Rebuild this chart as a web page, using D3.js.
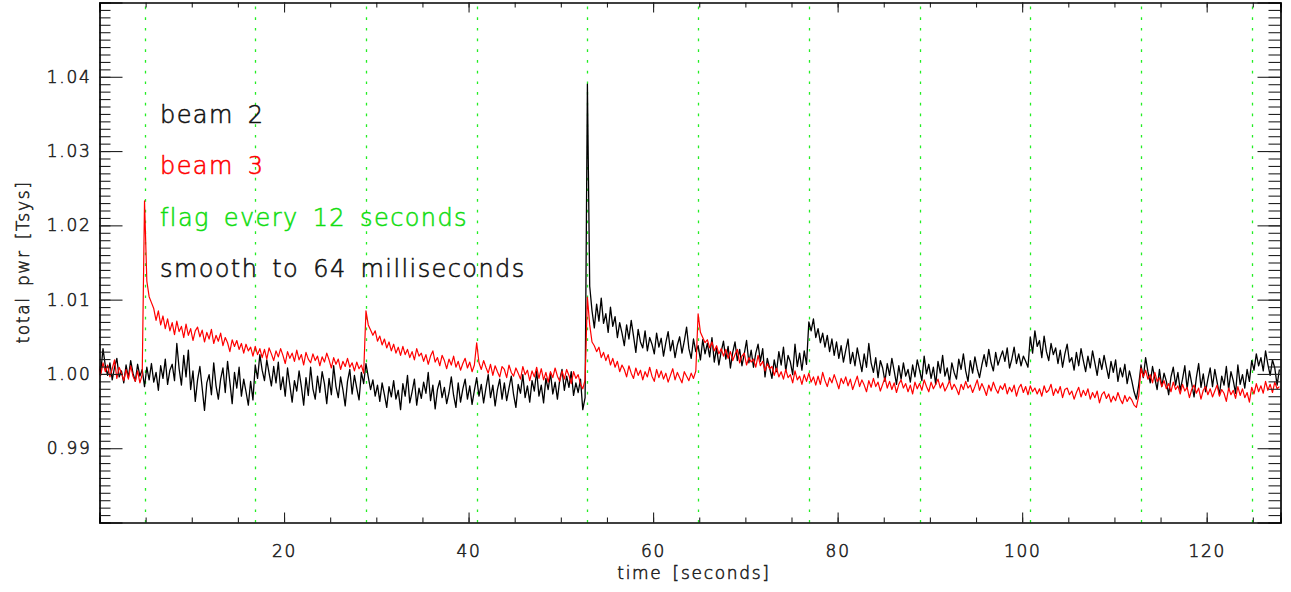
<!DOCTYPE html>
<html><head><meta charset="utf-8">
<script src="https://cdn.jsdelivr.net/npm/d3@7"></script>
<style>
html,body{margin:0;padding:0;background:#fff;}
svg text{font-family:"DejaVu Sans ExtraLight","DejaVu Sans",sans-serif;font-weight:200;stroke-width:0.55px;}
</style></head><body>
<svg id="chart" width="1291" height="592"></svg>
<script>
const sampleStart = -0.12; // seconds, time of first sample
const sampleStep = 0.25;   // seconds between samples
const flagTimes = [4.88, 16.88, 28.88, 40.88, 52.88, 64.88, 76.88, 88.88, 100.88, 112.88, 124.88];
const xTickValues = [20, 40, 60, 80, 100, 120];
const yTickValues = [0.99, 1.00, 1.01, 1.02, 1.03, 1.04];
const legendLabels = ["beam 2", "beam 3", "flag every 12 seconds", "smooth to 64 milliseconds"];
const beam2 = [
1.0008,1.0002,1.0034,1.0011, 0.9998,1.0015,0.9992,1.0009, 1.0021,0.9996,1.0004,0.9988, 1.0012,0.9995,1.0018,1.0001,
0.9990,1.0013,0.9997,1.0006, 0.9983,1.0009,0.9992,1.0014, 0.9989,1.0002,0.9978,1.0011, 0.9994,1.0020,0.9986,1.0005,
1.0013,0.9991,1.0041,1.0007, 0.9985,1.0025,0.9996,1.0032, 0.9979,1.0004,0.9963,0.9992, 1.0010,0.9981,0.9951,0.9988,
0.9999,0.9972,1.0015,0.9984, 0.9966,0.9993,1.0008,0.9975, 1.0017,0.9989,0.9960,1.0002, 0.9981,1.0009,0.9970,0.9993,
0.9976,0.9958,0.9990,0.9965, 1.0012,0.9994,1.0026,1.0005, 0.9991,1.0019,1.0001,0.9984, 1.0010,0.9988,1.0016,0.9979,
0.9996,0.9970,1.0008,0.9985, 0.9962,0.9991,0.9977,1.0004, 0.9983,0.9958,0.9995,0.9971, 1.0009,0.9980,0.9966,0.9997,
0.9975,1.0003,0.9987,0.9960, 0.9994,0.9972,1.0011,0.9983, 0.9968,0.9996,0.9979,0.9957, 0.9990,1.0006,0.9973,0.9998,
0.9981,0.9965,1.0002,0.9987, 1.0014,0.9996,0.9979,0.9992, 0.9970,0.9985,0.9963,0.9988, 0.9972,0.9955,0.9983,0.9969,
0.9991,0.9966,0.9978,0.9952, 0.9987,0.9970,0.9998,0.9961, 0.9976,0.9993,0.9958,0.9981, 0.9967,0.9989,0.9974,1.0002,
0.9964,0.9985,0.9953,0.9979, 0.9991,0.9968,0.9982,0.9960, 0.9975,0.9996,0.9971,0.9955, 0.9988,0.9962,0.9980,0.9993,
0.9966,0.9984,0.9959,0.9978, 0.9995,0.9970,0.9986,0.9961, 0.9981,0.9999,0.9968,0.9985, 0.9957,0.9979,0.9993,0.9966,
0.9988,0.9964,0.9981,0.9997, 0.9972,0.9955,0.9986,0.9974, 0.9999,0.9968,0.9984,0.9962, 0.9991,0.9977,1.0004,0.9970,
0.9985,0.9961,0.9994,0.9979, 1.0001,0.9973,0.9989,0.9966, 0.9992,1.0006,0.9978,0.9997, 0.9982,1.0003,0.9971,0.9988,
0.9975,0.9993,0.9952,0.9968, 1.0390,1.0118,1.0085,1.0062, 1.0094,1.0071,1.0102,1.0068, 1.0081,1.0056,1.0090,1.0064,
1.0077,1.0049,1.0069,1.0055, 1.0038,1.0066,1.0047,1.0072, 1.0051,1.0029,1.0060,1.0043, 1.0035,1.0058,1.0031,1.0049,
1.0040,1.0027,1.0055,1.0036, 1.0048,1.0024,1.0042,1.0057, 1.0031,1.0045,1.0022,1.0039, 1.0050,1.0028,1.0044,1.0063,
1.0034,1.0021,1.0047,1.0030, 1.0038,1.0019,1.0046,1.0027, 1.0041,1.0023,1.0049,1.0016, 1.0035,1.0012,1.0030,1.0044,
1.0020,1.0037,1.0008,1.0029, 1.0043,1.0018,1.0033,1.0011, 1.0027,1.0045,1.0015,1.0032, 1.0009,1.0028,1.0040,1.0017,
1.0034,0.9996,1.0021,1.0008, 0.9994,1.0019,1.0003,1.0030, 1.0012,1.0036,1.0004,1.0025, 1.0016,0.9999,1.0040,1.0010,
1.0028,1.0005,1.0031,1.0013, 1.0070,1.0058,1.0074,1.0049, 1.0061,1.0042,1.0055,1.0036, 1.0052,1.0030,1.0047,1.0025,
1.0043,1.0021,1.0038,1.0016, 1.0032,1.0047,1.0014,1.0029, 1.0011,1.0035,1.0019,1.0003, 1.0027,1.0009,1.0041,1.0015,
1.0002,1.0022,0.9995,1.0018, 1.0008,0.9990,1.0014,0.9998, 1.0021,1.0004,0.9986,1.0011, 0.9993,1.0015,0.9997,1.0006,
0.9989,1.0012,0.9996,1.0019, 1.0005,0.9991,1.0024,1.0000, 1.0013,0.9994,1.0009,0.9986, 1.0017,1.0001,1.0025,0.9997,
1.0008,0.9989,1.0015,1.0002, 0.9993,1.0020,1.0006,1.0027, 1.0004,0.9990,1.0018,1.0001, 1.0023,1.0007,0.9995,1.0012,
1.0026,1.0010,1.0033,1.0015, 1.0004,1.0029,1.0012,1.0022, 1.0031,1.0017,1.0035,1.0008, 1.0020,1.0036,1.0014,1.0027,
1.0011,1.0024,1.0017,1.0009, 1.0050,1.0028,1.0058,1.0037, 1.0045,1.0022,1.0051,1.0030, 1.0018,1.0041,1.0026,1.0035,
1.0014,1.0032,1.0009,1.0027, 1.0040,1.0016,1.0022,1.0005, 1.0029,1.0011,1.0034,1.0018, 1.0003,1.0024,1.0008,1.0031,
1.0015,0.9998,1.0021,1.0006, 1.0025,1.0009,0.9994,1.0017, 1.0002,1.0019,0.9990,1.0008, 0.9996,1.0013,0.9987,1.0004,
0.9991,0.9976,0.9966,0.9985, 1.0012,0.9995,1.0022,1.0003, 0.9988,1.0010,0.9994,0.9979, 1.0006,0.9983,1.0001,0.9990,
0.9972,0.9996,1.0009,0.9985, 1.0002,0.9978,0.9993,1.0011, 0.9980,1.0004,0.9987,0.9969, 0.9995,1.0014,0.9982,1.0000,
0.9976,0.9993,1.0008,0.9983, 1.0006,0.9989,0.9972,0.9997, 0.9985,1.0010,0.9979,1.0003, 0.9991,0.9974,1.0012,0.9986,
0.9999,0.9981,1.0006,0.9990, 1.0018,1.0005,1.0027,1.0011, 1.0022,1.0004,1.0031,1.0013, 0.9998,1.0019,1.0008,0.9985,
1.0006];
const beam3 = [
1.0010,0.9998,1.0015,1.0003, 1.0012,0.9996,1.0007,1.0019, 0.9994,1.0009,1.0001,0.9991, 1.0006,0.9993,1.0011,0.9997,
0.9990,1.0004,0.9988,0.9999, 1.0233,1.0125,1.0104,1.0096, 1.0088,1.0072,1.0085,1.0066, 1.0078,1.0061,1.0074,1.0058,
1.0069,1.0053,1.0071,1.0057, 1.0064,1.0049,1.0067,1.0052, 1.0061,1.0045,1.0058,1.0063, 1.0050,1.0059,1.0043,1.0056,
1.0047,1.0060,1.0041,1.0052, 1.0044,1.0055,1.0038,1.0049, 1.0042,1.0030,1.0046,1.0037, 1.0045,1.0033,1.0041,1.0028,
1.0040,1.0031,1.0036,1.0024, 1.0037,1.0026,1.0034,1.0022, 1.0033,1.0020,1.0035,1.0027, 1.0018,1.0031,1.0023,1.0034,
1.0025,1.0014,1.0030,1.0021, 1.0028,1.0017,1.0032,1.0019, 1.0026,1.0012,1.0029,1.0020, 1.0015,1.0027,1.0018,1.0024,
1.0011,1.0023,1.0016,1.0028, 1.0019,1.0008,1.0022,1.0013, 1.0020,1.0006,1.0017,1.0010, 1.0021,1.0009,1.0015,1.0004,
1.0016,1.0007,1.0012,1.0001, 1.0085,1.0066,1.0059,1.0052, 1.0058,1.0044,1.0051,1.0039, 1.0047,1.0035,1.0043,1.0031,
1.0040,1.0028,1.0036,1.0025, 1.0037,1.0026,1.0033,1.0022, 1.0030,1.0019,1.0034,1.0024, 1.0028,1.0017,1.0026,1.0013,
1.0024,1.0031,1.0016,1.0022, 1.0011,1.0025,1.0018,1.0007, 1.0020,1.0012,1.0024,1.0009, 1.0017,1.0005,1.0014,1.0021,
1.0008,1.0016,1.0003,1.0012, 1.0042,1.0015,1.0006,1.0018, 1.0009,1.0001,1.0013,0.9998, 1.0011,1.0003,0.9996,1.0010,
1.0006,0.9995,1.0012,1.0002, 0.9997,1.0008,1.0001,0.9993, 1.0010,0.9999,1.0005,0.9991, 1.0004,0.9996,1.0009,0.9994,
1.0007,0.9992,1.0002,0.9989, 1.0003,0.9995,1.0008,0.9997, 0.9990,1.0004,0.9993,1.0006, 0.9998,0.9987,1.0003,0.9994,
0.9999,0.9986,0.9980,0.9992, 1.0103,1.0066,1.0043,1.0038, 1.0030,1.0036,1.0022,1.0029, 1.0018,1.0026,1.0012,1.0021,
1.0009,1.0017,1.0003,1.0012, 1.0006,0.9996,1.0011,1.0001, 0.9994,1.0008,0.9998,1.0005, 0.9992,1.0003,0.9996,1.0009,
0.9997,0.9990,1.0006,0.9995, 1.0004,0.9993,1.0001,0.9989, 0.9998,1.0007,0.9992,1.0002, 0.9995,0.9988,1.0003,0.9997,
0.9991,1.0001,0.9994,1.0004, 1.0081,1.0056,1.0049,1.0042, 1.0046,1.0035,1.0043,1.0031, 1.0038,1.0027,1.0034,1.0024,
1.0033,1.0021,1.0030,1.0018, 1.0026,1.0033,1.0015,1.0024, 1.0028,1.0012,1.0022,1.0016, 1.0020,1.0009,1.0025,1.0011,
1.0017,1.0004,1.0014,1.0007, 1.0010,0.9998,1.0008,0.9996, 1.0003,0.9993,1.0006,0.9995, 0.9999,0.9988,1.0004,0.9992,
0.9997,0.9986,0.9999,0.9990, 1.0001,0.9989,0.9996,0.9985, 0.9997,0.9986,1.0002,0.9991, 0.9983,0.9995,0.9988,0.9999,
0.9990,0.9980,0.9994,0.9987, 0.9996,0.9984,0.9993,0.9979, 0.9988,0.9997,0.9983,0.9992, 0.9985,0.9976,0.9991,0.9982,
0.9994,0.9983,0.9989,0.9977, 0.9986,0.9995,0.9981,0.9990, 0.9979,0.9988,0.9975,0.9986, 0.9992,0.9981,0.9987,0.9976,
0.9985,0.9973,0.9989,0.9980, 0.9987,0.9978,0.9992,0.9983, 0.9976,0.9989,0.9980,0.9986, 0.9993,0.9981,0.9988,0.9977,
0.9983,0.9991,0.9979,0.9986, 0.9980,0.9972,0.9986,0.9979, 0.9990,0.9981,0.9985,0.9975, 0.9983,0.9992,0.9978,0.9987,
0.9980,0.9971,0.9985,0.9977, 0.9989,0.9980,0.9974,0.9984, 0.9979,0.9987,0.9973,0.9982, 0.9976,0.9985,0.9970,0.9981,
0.9986,0.9975,0.9983,0.9972, 0.9984,0.9976,0.9981,0.9973, 0.9980,0.9970,0.9984,0.9975, 0.9978,0.9986,0.9971,0.9980,
0.9974,0.9983,0.9968,0.9979, 0.9981,0.9972,0.9977,0.9966, 0.9975,0.9982,0.9969,0.9978, 0.9971,0.9980,0.9966,0.9975,
0.9968,0.9977,0.9961,0.9972, 0.9976,0.9967,0.9973,0.9962, 0.9970,0.9964,0.9975,0.9966, 0.9960,0.9971,0.9963,0.9969,
0.9965,0.9958,0.9955,0.9970, 1.0008,0.9996,1.0005,0.9993, 0.9999,0.9988,1.0002,0.9990, 0.9995,0.9983,0.9991,0.9980,
0.9987,0.9976,0.9989,0.9979, 0.9984,0.9973,0.9986,0.9977, 0.9982,0.9968,0.9979,0.9985, 0.9974,0.9981,0.9966,0.9978,
0.9983,0.9972,0.9980,0.9969, 0.9977,0.9985,0.9970,0.9979, 0.9974,0.9963,0.9981,0.9972, 0.9978,0.9967,0.9983,0.9971,
0.9980,0.9968,0.9975,0.9962, 0.9982,0.9973,0.9987,0.9976, 0.9984,0.9974,0.9990,0.9978, 0.9986,0.9975,0.9989,0.9980,
0.9983];

const L = 99.5, R = 1280.5, T = 2.5, B = 522.5;
const svg = d3.select("#chart");
const x = d3.scaleLinear().domain([0, 128]).range([L, R]);
const y = d3.scaleLinear().domain([0.98, 1.05]).range([B, T]);

svg.append("defs").append("clipPath").attr("id", "plotclip")
  .append("rect").attr("x", L).attr("y", T).attr("width", R - L).attr("height", B - T);

// flag lines
svg.append("g").selectAll("line").data(flagTimes).join("line")
  .attr("x1", d => Math.round(x(d)) + 0.5).attr("x2", d => Math.round(x(d)) + 0.5)
  .attr("y1", T + 4).attr("y2", B)
  .attr("stroke", "#22ee22").attr("stroke-width", 1.3).attr("stroke-dasharray", "2.7,8");

const line = d3.line().x((d, i) => x(sampleStart + i * sampleStep)).y(d => y(d));
const plot = svg.append("g").attr("clip-path", "url(#plotclip)");
plot.append("path").datum(beam2).attr("d", line).attr("fill", "none")
  .attr("stroke", "#000").attr("stroke-width", 1.3).attr("stroke-linejoin", "round");
plot.append("path").datum(beam3).attr("d", line).attr("fill", "none")
  .attr("stroke", "#ff0000").attr("stroke-width", 1.2).attr("stroke-linejoin", "round");

// axes
const fmtY = d3.format(".2f");
const ax = svg.append("g");
const xMinor = d3.range(0, 129, 5);
const yMinor = d3.range(0, 71).map(i => 0.98 + i * 0.001);
ax.append("g").call(d3.axisBottom(x).tickValues(xMinor).tickSize(-5).tickFormat(""))
  .attr("transform", `translate(0,${B})`);
ax.append("g").call(d3.axisBottom(x).tickValues(xTickValues).tickSize(-10).tickPadding(22).tickFormat(d3.format("d")))
  .attr("transform", `translate(0,${B})`);
ax.append("g").call(d3.axisTop(x).tickValues(xMinor).tickSize(-5).tickFormat(""))
  .attr("transform", `translate(0,${T})`);
ax.append("g").call(d3.axisTop(x).tickValues(xTickValues).tickSize(-10).tickFormat(""))
  .attr("transform", `translate(0,${T})`);
ax.append("g").call(d3.axisLeft(y).tickValues(yMinor).tickSize(-11).tickFormat(""))
  .attr("transform", `translate(${L},0)`);
ax.append("g").call(d3.axisLeft(y).tickValues(yTickValues).tickSize(-23).tickPadding(8).tickFormat(fmtY))
  .attr("transform", `translate(${L},0)`);
ax.append("g").call(d3.axisRight(y).tickValues(yMinor).tickSize(-12).tickFormat(""))
  .attr("transform", `translate(${R},0)`);
ax.append("g").call(d3.axisRight(y).tickValues(yTickValues).tickSize(-23).tickFormat(""))
  .attr("transform", `translate(${R},0)`);
ax.selectAll(".domain").attr("stroke", "#000").attr("stroke-width", 1.2);
ax.selectAll(".tick line").attr("stroke", "#222").attr("stroke-width", 1.1);
ax.selectAll(".tick text").attr("fill", "#222").attr("stroke", "#222").attr("font-size", 17).attr("letter-spacing", 1.7)
  .attr("font-family", null);

// titles
svg.append("text").attr("x", 694).attr("y", 579).attr("text-anchor", "middle")
  .attr("font-size", 17).attr("letter-spacing", 1.7).attr("word-spacing", 3).attr("fill", "#222").attr("stroke", "#222").text("time [seconds]");
svg.append("text").attr("transform", "translate(29,262) rotate(-90)").attr("text-anchor", "middle")
  .attr("font-size", 17).attr("letter-spacing", 1.7).attr("word-spacing", 3).attr("fill", "#222").attr("stroke", "#222").text("total pwr [Tsys]");

// legend
const legendColors = ["#111", "#ff0000", "#11dd11", "#111"];
svg.append("g").selectAll("text").data(legendLabels).join("text")
  .attr("x", 160).attr("y", (d, i) => 123 + i * 51.3)
  .attr("font-size", 24).attr("letter-spacing", 1.4).attr("word-spacing", 5)
  .attr("fill", (d, i) => legendColors[i]).attr("stroke", (d, i) => legendColors[i])
  .text(d => d);
</script>
</body></html>
